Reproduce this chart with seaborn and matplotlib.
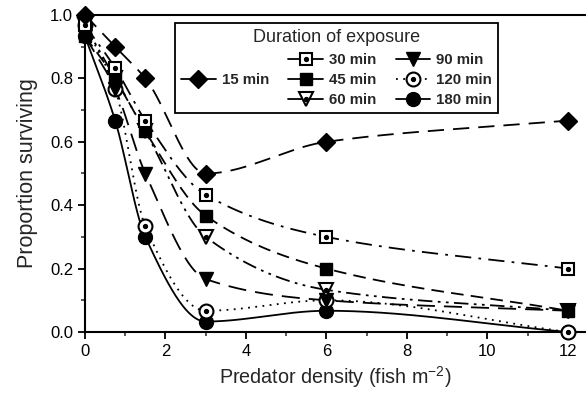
import numpy as np
import pandas as pd
import matplotlib
matplotlib.use('Agg')
import matplotlib.pyplot as plt
import seaborn as sns
from matplotlib.lines import Line2D
from matplotlib.ticker import MultipleLocator

density = [0, 0.75, 1.5, 3, 6, 12]

min15 = [1.0, 0.9, 0.8, 0.5, 0.6, 0.667]
min30 = [0.967, 0.833, 0.667, 0.433, 0.3, 0.2]
min45 = [0.933, 0.8, 0.633, 0.367, 0.2, 0.067]
min60 = [0.967, 0.8, 0.633, 0.3, 0.133, 0.067]
min90 = [0.933, 0.767, 0.5, 0.167, 0.1, 0.067]
min120 = [0.967, 0.767, 0.333, 0.067, 0.1, 0.0]
min180 = [0.933, 0.667, 0.3, 0.033, 0.067, 0.0]

labels = ['15 min', '30 min', '45 min', '60 min', '90 min', '120 min', '180 min']
series = [min15, min30, min45, min60, min90, min120, min180]


def pchip(x, y, xs):
    # monotone cubic curve, like the smoothed lines of the original
    x = np.asarray(x, float)
    y = np.asarray(y, float)
    h = np.diff(x)
    d = np.diff(y) / h
    n = len(x)
    m = np.zeros(n)
    for k in range(1, n - 1):
        if d[k - 1] * d[k] > 0:
            w1 = 2 * h[k] + h[k - 1]
            w2 = h[k] + 2 * h[k - 1]
            m[k] = (w1 + w2) / (w1 / d[k - 1] + w2 / d[k])
    m[0] = d[0]
    m[-1] = d[-1]
    idx = np.clip(np.searchsorted(x, xs) - 1, 0, n - 2)
    t = (xs - x[idx]) / h[idx]
    h00 = 2 * t**3 - 3 * t**2 + 1
    h10 = t**3 - 2 * t**2 + t
    h01 = -2 * t**3 + 3 * t**2
    h11 = t**3 - t**2
    return h00 * y[idx] + h10 * h[idx] * m[idx] + h01 * y[idx + 1] + h11 * h[idx] * m[idx + 1]


sns.set_style('ticks')
plt.rcParams['font.family'] = ['Liberation Sans', 'DejaVu Sans']
plt.rcParams['mathtext.fontset'] = 'custom'
plt.rcParams['mathtext.rm'] = 'Liberation Sans'

fig = plt.figure(figsize=(5.86, 4.0), dpi=100)
ax = fig.add_axes([0.145, 0.17, 0.855, 0.7925])

styles = [
    (0, (9, 5)),
    (0, (9, 4, 1.5, 4)),
    (0, (7, 4)),
    (0, (8, 3, 1.5, 3, 1.5, 3)),
    (0, (10, 5)),
    (0, (1, 3)),
    '-',
]
markers = [
    dict(marker='D', ms=9, mfc='black', mec='black'),
    dict(marker='s', ms=9, mfc='white', mec='black', mew=1.5),
    dict(marker='s', ms=9, mfc='black', mec='black'),
    dict(marker='v', ms=10, mfc='white', mec='black', mew=1.5),
    dict(marker='v', ms=10, mfc='black', mec='black'),
    dict(marker='o', ms=10, mfc='white', mec='black', mew=1.5),
    dict(marker='o', ms=10, mfc='black', mec='black'),
]
dotted_centre = [False, True, False, True, False, True, False]

xs = np.linspace(0, 12, 400)
for i in range(len(series) - 1, -1, -1):
    curve = pd.DataFrame({'x': xs, 'y': pchip(density, series[i], xs)})
    sns.lineplot(data=curve, x='x', y='y', ax=ax, color='black', lw=1.3,
                 linestyle=styles[i], zorder=2)
    ax.plot(density, series[i], ls='none', zorder=3, clip_on=False, **markers[i])
    if dotted_centre[i]:
        ax.plot(density, series[i], ls='none', marker='o', ms=2.8, color='black',
                zorder=3, clip_on=False)

ax.set_xlim(0, 12.45)
ax.set_ylim(0, 1.0)
ax.xaxis.set_major_locator(MultipleLocator(2))
ax.xaxis.set_minor_locator(MultipleLocator(1))
ax.yaxis.set_major_locator(MultipleLocator(0.2))
ax.yaxis.set_minor_locator(MultipleLocator(0.1))
ax.yaxis.set_major_formatter(matplotlib.ticker.FormatStrFormatter('%.1f'))
ax.tick_params(which='major', length=5, width=1.3, labelsize=12, colors='black')
ax.tick_params(which='minor', length=3, width=1.1)
for s in ['left', 'bottom', 'top']:
    ax.spines[s].set_linewidth(1.5)
    ax.spines[s].set_color('black')
ax.spines['right'].set_visible(False)

ax.set_xlabel('Predator density (fish m$^{-2}$)', fontsize=14.2, labelpad=4)
ax.set_ylabel('Proportion surviving', fontsize=15.5, labelpad=9)

# legend: 15 min alone on the left, the other six in two columns
handles = []
for i in range(len(series)):
    main = Line2D([], [], color='black', lw=1.3, ls='-', **markers[i])
    if i == 5:
        main = Line2D([], [], color='black', lw=1.3, ls=(0, (1, 3)), **markers[i])
    if dotted_centre[i]:
        handles.append((main, Line2D([], [], ls='none', marker='o', ms=2.8, color='black')))
    else:
        handles.append(main)
blank = Line2D([], [], ls='none')
leg_handles = [blank, handles[0], blank] + handles[1:]
leg_labels = ['', labels[0], ''] + labels[1:]
leg = ax.legend(leg_handles, leg_labels, ncol=3, loc='upper left',
                bbox_to_anchor=(0.165, 0.997), title='Duration of exposure',
                title_fontsize=13, prop={'weight': 'bold', 'size': 10.8},
                frameon=True, fancybox=False, edgecolor='black', framealpha=1,
                handlelength=2.3, columnspacing=1.3, labelspacing=0.42,
                handletextpad=0.4, borderpad=0.4)
leg.get_frame().set_linewidth(1.3)

fig.savefig('out.png', dpi=100)
